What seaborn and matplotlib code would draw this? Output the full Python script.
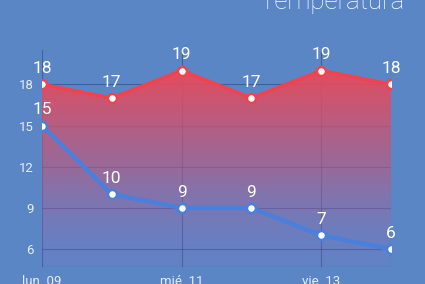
import numpy as np
import pandas as pd
import matplotlib
matplotlib.use("Agg")
import matplotlib.pyplot as plt
import seaborn as sns
from matplotlib.patches import PathPatch
from matplotlib.path import Path
from matplotlib.colors import LinearSegmentedColormap

days = [0, 1, 2, 3, 4, 5]
max_temp = [18, 17, 19, 17, 19, 18]
min_temp = [15, 10, 9, 9, 7, 6]
xtick_pos = [0, 2, 4]
xtick_labels = ["lun. 09", "mié. 11", "vie. 13"]
ytick_vals = [6, 9, 12, 15, 18]
title = "Temperatura"

sns.set_theme(style="white")
plt.rcParams['font.family'] = ['Roboto', 'DejaVu Sans']

bg = '#5b86c5'
fig = plt.figure(figsize=(4.25, 2.84), dpi=100, facecolor=bg)
ax = fig.add_axes([42/425, 17/284, 349/425, 217/284])
ax.set_facecolor('none')

ylo, yhi = 4.7, 20.5
ax.set_xlim(0, 5)
ax.set_ylim(ylo, yhi)

# gridlines
for y in ytick_vals:
    ax.axhline(y, color='#2a3f80', lw=0.8, alpha=0.55, zorder=1)
for x in xtick_pos + [5]:
    ax.axvline(x, color='#2a3f80', lw=0.8, alpha=0.55, zorder=1)

df = pd.DataFrame({"day": days, "max": max_temp, "min": min_temp})

# gradient fill under max line (top red, fading toward the bottom)
grad = np.linspace(0, 1, 256).reshape(-1, 1)
cmap = LinearSegmentedColormap.from_list(
    'g', [(0.50, 0.45, 0.78, 0.15), (0.74, 0.35, 0.50, 0.62), (0.92, 0.29, 0.35, 0.97)])
im = ax.imshow(grad, extent=[0, 5, ylo, 19], aspect='auto', cmap=cmap, zorder=2, origin='lower')
verts = [(d, m) for d, m in zip(days, max_temp)] + [(5, ylo), (0, ylo)]
clip = Path(verts + [verts[0]], closed=True)
patch = PathPatch(clip, transform=ax.transData, facecolor='none', edgecolor='none')
ax.add_patch(patch)
im.set_clip_path(patch)
ax.set_xlim(0, 5)
ax.set_ylim(ylo, yhi)

sns.lineplot(data=df, x="day", y="max", color='#f2424e', lw=2.6, ax=ax, zorder=4,
             marker='o', markersize=6.5, markerfacecolor='white', markeredgecolor='#f2424e', markeredgewidth=1.8)
sns.lineplot(data=df, x="day", y="min", color='#4a7fdc', lw=3.2, ax=ax, zorder=4,
             marker='o', markersize=6.5, markerfacecolor='white', markeredgecolor='#4a7fdc', markeredgewidth=1.8)

for d, v in zip(days, max_temp):
    ax.annotate(str(v), (d, v), xytext=(0, 6), textcoords='offset points', ha='center', va='bottom',
                color='white', fontsize=12.5, zorder=5)
for d, v in zip(days, min_temp):
    ax.annotate(str(v), (d, v), xytext=(0, 6), textcoords='offset points', ha='center', va='bottom',
                color='white', fontsize=12.5, zorder=5)

ax.set_xticks(xtick_pos)
ax.set_xticklabels(xtick_labels)
ax.set_yticks(ytick_vals)
ax.set_yticklabels([str(v) for v in ytick_vals])
ax.tick_params(colors='#e6ecf7', labelsize=9.5, length=0, pad=6)
ax.set_xlabel("")
ax.set_ylabel("")
for s in ax.spines.values():
    s.set_visible(False)
ax.axhline(ylo, color='#2a3f80', lw=0.8, alpha=0.55, zorder=1)

fig.text(405/425, 1 - 2/284, title, ha='right', va='center', color='white', fontsize=18.5, fontweight='light')

fig.savefig("out.png", dpi=100, facecolor=bg)
